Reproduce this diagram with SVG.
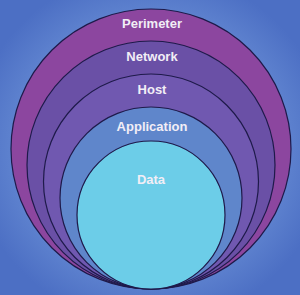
<svg xmlns="http://www.w3.org/2000/svg" width="300" height="295" viewBox="0 0 300 295">
<defs>
<radialGradient id="bg" cx="50%" cy="50%" r="60%">
<stop offset="0.6" stop-color="#6a8fd6"/>
<stop offset="1" stop-color="#4c6fc4"/>
</radialGradient>
<style>
.ring{stroke:#1e1a4a;stroke-width:1.2}
.lbl{font-family:"Liberation Sans",Arial,sans-serif;font-weight:bold;font-size:13px;fill:#f2eef6;text-anchor:middle}
</style>
</defs>
<rect width="300" height="295" fill="url(#bg)"/>
<g id="perimeter"><circle class="ring" cx="151" cy="149" r="140" fill="#8c469f" stroke="none"/><text class="lbl" x="152" y="28">Perimeter</text></g>
<g id="network"><circle class="ring" cx="151" cy="165" r="124" fill="#6a50a6"/><text class="lbl" x="152" y="61">Network</text></g>
<g id="host"><circle class="ring" cx="151" cy="181.5" r="107.5" fill="#7058b0"/><text class="lbl" x="152" y="94">Host</text></g>
<g id="application"><circle class="ring" cx="151" cy="198" r="91" fill="#5f86cb"/><text class="lbl" x="152" y="131">Application</text></g>
<g id="data"><circle class="ring" cx="151" cy="215" r="74" fill="#6ccde8"/><text class="lbl" x="151" y="184">Data</text></g>
</svg>
